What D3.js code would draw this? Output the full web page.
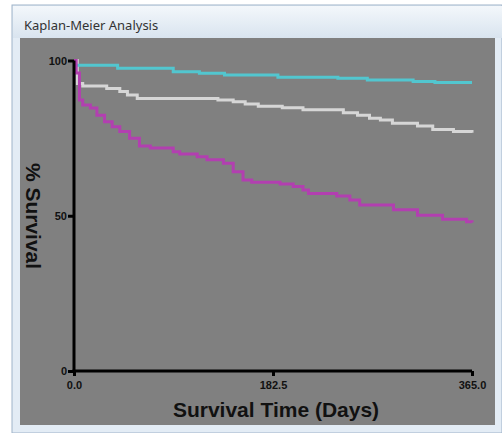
<!DOCTYPE html>
<html>
<head>
<meta charset="utf-8">
<script src="https://cdn.jsdelivr.net/npm/d3@7"></script>
<style>
  body { margin: 0; padding: 0; background: #eef3f9; }
  svg { display: block; }
</style>
</head>
<body>
<div id="chart"></div>
<script>
// Survival curves: [day, % survival]
const cyanCurve = [[0, 100], [1, 98.5], [40, 97.5], [91, 96.4], [115, 95.9], [138, 95.3],
  [187, 94.6], [242, 94.3], [269, 93.7], [311, 93.2], [331, 92.9], [365, 92.9]];
const grayCurve = [[0, 100], [3, 92.6], [8, 91.8], [30, 91], [42, 90], [49, 88.9], [58, 87.8],
  [132, 87.3], [146, 86.7], [157, 86], [169, 85.3], [191, 84.8], [210, 84.1], [247, 83.2],
  [260, 82.4], [271, 81.4], [281, 80.8], [292, 79.8], [315, 78.9], [329, 77.8], [348, 77.1],
  [365, 76.7]];
const magentaCurve = [[0, 100], [2, 96], [5, 87.3], [8, 85.7], [15, 84.7], [21, 82.4], [28, 80.3],
  [35, 78.7], [42, 77.1], [51, 75], [60, 72.5], [70, 71.8], [91, 70.6], [97, 69.9], [113, 69],
  [122, 68], [137, 66.9], [146, 64.2], [155, 61.5], [163, 60.8], [189, 60.2], [201, 59.4],
  [210, 58.3], [215, 57.2], [241, 56.4], [253, 55.1], [262, 53.5], [293, 51.9], [315, 50.2],
  [338, 48.9], [360, 48.1], [365, 47.8]];

const xTicks = [0, 182.5, 365];
const yTicks = [0, 50, 100];

const W = 502, H = 433;
const svg = d3.select('#chart').append('svg')
  .attr('width', W).attr('height', H);

// window frame
const grad = svg.append('defs').append('linearGradient')
  .attr('id', 'bar').attr('x1', 0).attr('y1', 0).attr('x2', 0).attr('y2', 1);
grad.append('stop').attr('offset', '0%').attr('stop-color', '#f3f7fb');
grad.append('stop').attr('offset', '100%').attr('stop-color', '#d9e4ef');

svg.append('rect').attr('x', 0).attr('y', 0).attr('width', W).attr('height', H).attr('fill', '#ffffff');
svg.append('rect').attr('x', 12).attr('y', 5).attr('width', W - 12).attr('height', H - 5)
  .attr('fill', '#e3ecf5').attr('stroke', '#9fb3c9').attr('stroke-width', 1);
svg.append('rect').attr('x', 13).attr('y', 6).attr('width', W - 13).attr('height', 32)
  .attr('fill', 'url(#bar)');
svg.append('text').attr('x', 24).attr('y', 30)
  .attr('font-family', 'Segoe UI, Noto Sans, sans-serif').attr('font-size', 13).attr('fill', '#333')
  .text('Kaplan-Meier Analysis');

// gray plot panel
svg.append('rect').attr('x', 20).attr('y', 38).attr('width', 475).attr('height', 387)
  .attr('fill', '#808080');

const margin = {left: 74, right: 30, top: 60.5, bottom: 62};
const x = d3.scaleLinear().domain([0, 365]).range([margin.left, 472]);
const y = d3.scaleLinear().domain([0, 100]).range([371, margin.top]);

const line = d3.line()
  .x(d => x(d[0]))
  .y(d => y(d[1]))
  .curve(d3.curveStepAfter);

const series = [
  {data: grayCurve, color: '#d6d6d6'},
  {data: cyanCurve, color: '#52c6cf'},
  {data: magentaCurve, color: '#b23fb0'}
];
svg.selectAll('.curve')
  .data(series)
  .enter().append('path')
    .attr('class', 'curve')
    .attr('d', d => line(d.data))
    .attr('fill', 'none')
    .attr('stroke', d => d.color)
    .attr('stroke-width', 3);

// axes
const xAxis = svg.append('g')
  .attr('transform', 'translate(0,' + y(0) + ')')
  .call(d3.axisBottom(x).tickValues(xTicks).tickFormat(d3.format('.1f')).tickSizeOuter(0).tickSize(5));
const yAxis = svg.append('g')
  .attr('transform', 'translate(' + x(0) + ',0)')
  .call(d3.axisLeft(y).tickValues(yTicks).tickSizeOuter(0).tickSize(6));

[xAxis, yAxis].forEach(ax => {
  ax.select('.domain').attr('stroke', '#000').attr('stroke-width', 3);
  ax.selectAll('.tick line').attr('stroke', '#000').attr('stroke-width', 3);
  ax.selectAll('.tick text')
    .attr('fill', '#111')
    .attr('font-family', 'Liberation Sans, Arial, sans-serif')
    .attr('font-weight', 'bold')
    .attr('font-size', 11);
});
xAxis.selectAll('.tick text').attr('dy', '0.9em');
yAxis.selectAll('.tick text').attr('x', -7);
// extend axes to meet at the corner
xAxis.select('.domain').attr('d', 'M' + (x(0) - 1.5) + ',0H' + x(365));
yAxis.select('.domain').attr('d', 'M0,' + y(100) + 'V' + (y(0) + 1.5));

// axis titles
svg.append('text')
  .attr('x', 276).attr('y', 417)
  .attr('text-anchor', 'middle')
  .attr('font-family', 'Liberation Sans, Arial, sans-serif')
  .attr('font-weight', 'bold').attr('font-size', 21).attr('fill', '#111')
  .text('Survival Time (Days)');
svg.append('text')
  .attr('transform', 'translate(26,216) rotate(90)')
  .attr('text-anchor', 'middle')
  .attr('font-family', 'Liberation Sans, Arial, sans-serif')
  .attr('font-weight', 'bold').attr('font-size', 21).attr('fill', '#111')
  .text('% Survival');
</script>
</body>
</html>
